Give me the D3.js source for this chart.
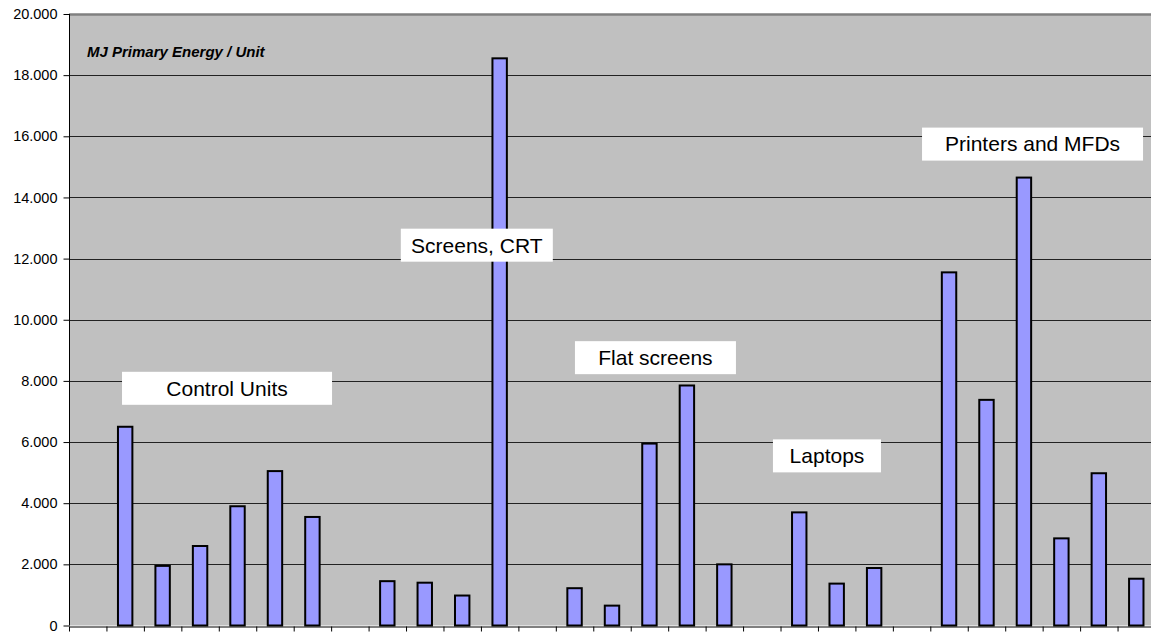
<!DOCTYPE html>
<html>
<head>
<meta charset="utf-8">
<script src="https://cdn.jsdelivr.net/npm/d3@7"></script>
<style>
  html, body { margin: 0; padding: 0; background: #ffffff; }
  svg { display: block; }
</style>
</head>
<body>
<svg id="chart" width="1151" height="633"></svg>
<script>
// Products, in chart order (first slot is left empty)
const categories = [
  "", "CU1", "CU2", "CU3", "CU4", "CU5", "CU6", "",
  "CRT1", "CRT2", "CRT3", "CRT4", "",
  "FS1", "FS2", "FS3", "FS4", "FS5", "",
  "LT1", "LT2", "LT3", "",
  "PR1", "PR2", "PR3", "PR4", "PR5", "PR6"
];
// MJ primary energy per unit (null = gap between groups)
const values = [
  null, 6500, 1950, 2600, 3900, 5050, 3550, null,
  1450, 1400, 980, 18550, null,
  1220, 650, 5950, 7850, 2000, null,
  3700, 1370, 1880, null,
  11550, 7380, 14650, 2850, 4980, 1530
];
const yTicks = [0, 2000, 4000, 6000, 8000, 10000, 12000, 14000, 16000, 18000, 20000];
const axisTitle = "MJ Primary Energy / Unit";
// Group captions: centre in category slots (x) and MJ (y), box width in px
const groupNames = ["Control Units", "Screens, CRT", "Flat screens", "Laptops", "Printers and MFDs"];
const groupX = [4.22, 10.89, 15.66, 20.24, 25.73];
const groupY = [7758, 12439, 8760, 5548, 15745];
const groupBoxW = [210, 152, 161, 108, 221];

const svg = d3.select("#chart");
const mLeft = 69, mRight = 1155, mTop = 14, mBottom = 625.5;

const slot = d3.scaleLinear().domain([0, categories.length]).range([mLeft, mRight]);
const x = d3.scaleBand().domain(d3.range(categories.length)).range([mLeft, mRight]).paddingInner(0.615).paddingOuter(0.3075);
const y = d3.scaleLinear().domain([0, 20000]).range([mBottom, mTop]);

const fmt = d3.formatLocale({ decimal: ",", thousands: ".", grouping: [3], currency: ["", ""] }).format(",.0f");

// plot background
svg.append("rect")
  .attr("x", mLeft).attr("y", mTop)
  .attr("width", mRight - mLeft).attr("height", mBottom - mTop)
  .attr("fill", "#c0c0c0");

// horizontal gridlines
svg.append("g")
  .selectAll("line")
  .data(yTicks.filter(d => d > 0 && d < 20000))
  .join("line")
  .attr("x1", mLeft).attr("x2", mRight)
  .attr("y1", d => Math.round(y(d)) + 0.5).attr("y2", d => Math.round(y(d)) + 0.5)
  .attr("stroke", "#222").attr("stroke-width", 1);

// top frame
svg.append("line")
  .attr("x1", mLeft).attr("x2", mRight)
  .attr("y1", mTop + 0.5).attr("y2", mTop + 0.5)
  .attr("stroke", "#808080").attr("stroke-width", 2.5);

// bars
svg.append("g")
  .selectAll("rect")
  .data(values.map((v, i) => ({ i, v })).filter(d => d.v != null))
  .join("rect")
  .attr("x", d => x(d.i))
  .attr("width", x.bandwidth())
  .attr("y", d => y(d.v))
  .attr("height", d => y(0) - y(d.v))
  .attr("fill", "#9999ff")
  .attr("stroke", "#000").attr("stroke-width", 2);

// y axis
const yAxis = svg.append("g")
  .attr("transform", `translate(${mLeft + 0.5},0)`)
  .call(d3.axisLeft(y).tickValues(yTicks).tickFormat(fmt).tickSize(6).tickPadding(6));
yAxis.select(".domain").attr("stroke", "#000").attr("d", `M0,${mTop}V${mBottom}`);
yAxis.selectAll(".tick line").attr("stroke", "#000");
yAxis.selectAll(".tick text")
  .attr("font-family", "'Liberation Sans', Arial, sans-serif")
  .attr("font-size", 14.5).attr("fill", "#000");

// x axis: tick marks between categories
const xAxis = svg.append("g")
  .attr("transform", `translate(0,${Math.round(mBottom) + 0.5})`)
  .call(d3.axisBottom(slot).tickValues(d3.range(categories.length + 1)).tickFormat("").tickSize(5).tickSizeOuter(0));
xAxis.select(".domain").attr("stroke", "#000");
xAxis.selectAll(".tick line").attr("stroke", "#000");

// axis title
svg.append("text")
  .attr("x", 87).attr("y", 57)
  .attr("font-family", "'Liberation Sans', Arial, sans-serif")
  .attr("font-size", 15).attr("font-weight", "bold").attr("font-style", "italic")
  .attr("fill", "#000")
  .text(axisTitle);

// group captions on white boxes
const captions = svg.append("g");
groupNames.forEach((name, k) => {
  const g = captions.append("g")
    .attr("transform", `translate(${slot(groupX[k])},${y(groupY[k])})`);
  g.append("rect")
    .attr("x", -groupBoxW[k] / 2).attr("y", -16.5)
    .attr("width", groupBoxW[k]).attr("height", 33)
    .attr("fill", "#fff");
  g.append("text")
    .attr("text-anchor", "middle")
    .attr("dy", "0.35em")
    .attr("font-family", "'Liberation Sans', Arial, sans-serif")
    .attr("font-size", 21).attr("fill", "#000")
    .text(name);
});
</script>
</body>
</html>
